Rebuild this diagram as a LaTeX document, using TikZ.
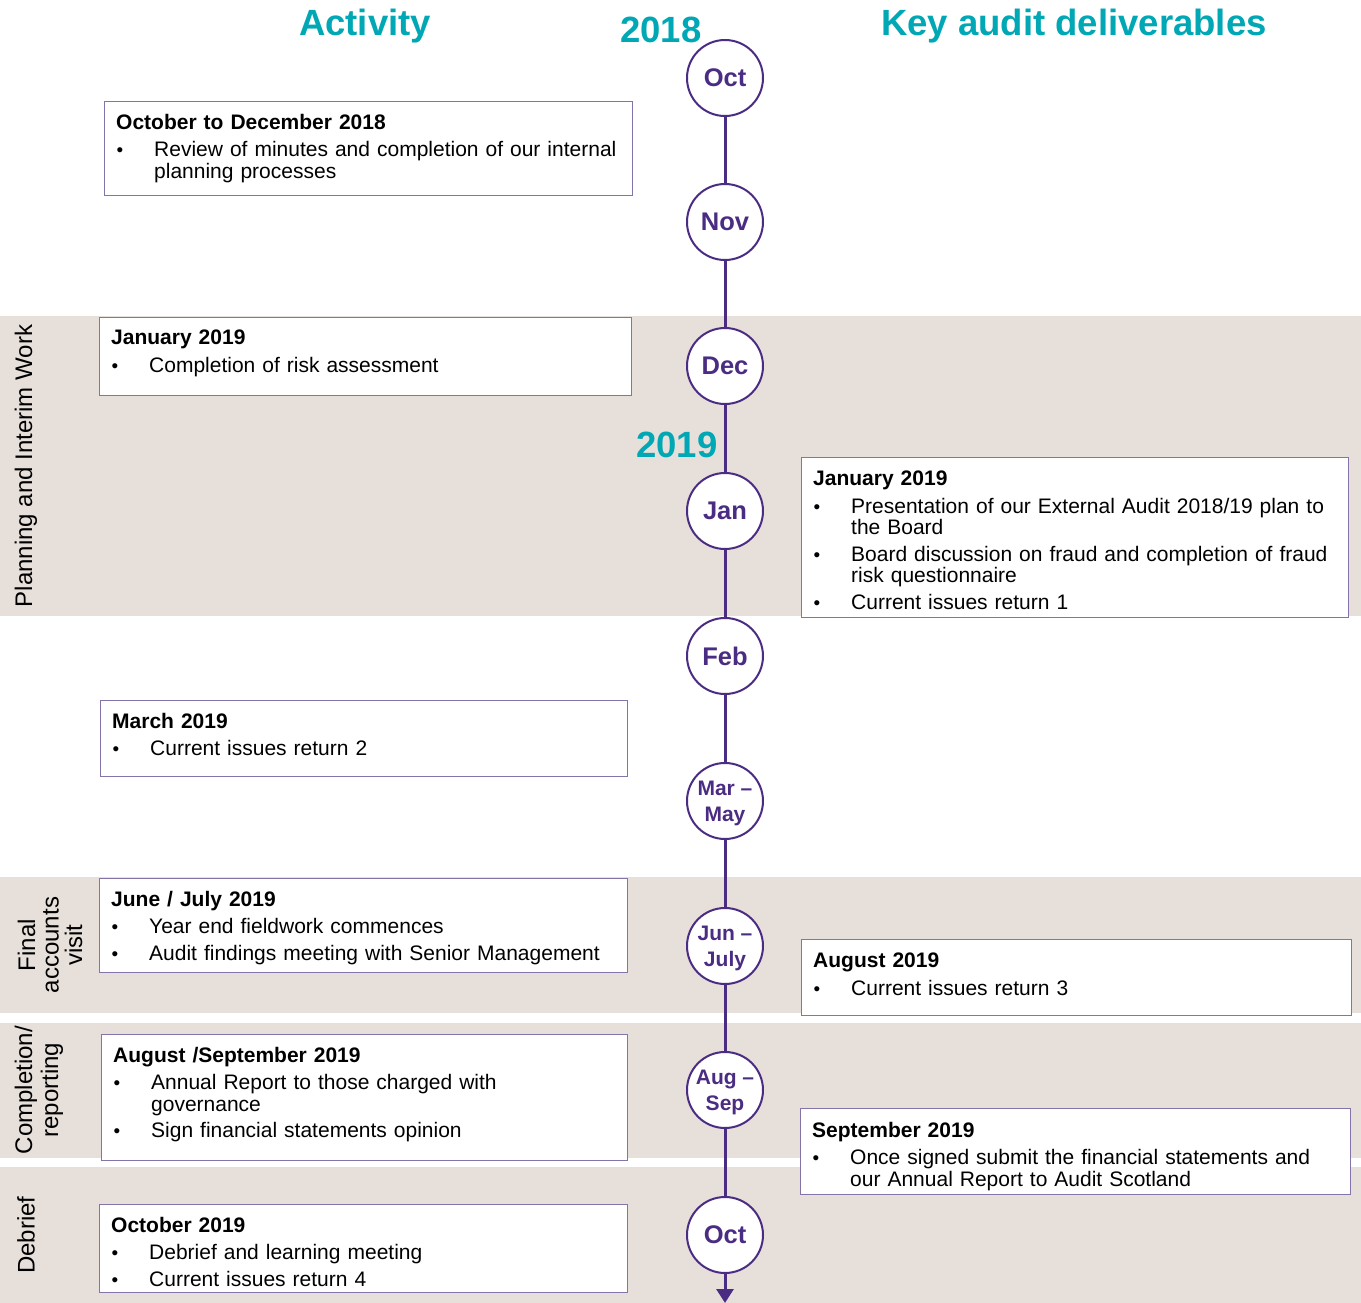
\documentclass[tikz,border=0pt]{standalone}
\usepackage{fontspec}
\setmainfont{Liberation Sans}
\usetikzlibrary{arrows.meta}
\definecolor{tlpurple}{HTML}{4B2C83}
\definecolor{boxpurple}{HTML}{8574AA}
\definecolor{teal}{HTML}{00A7B4}
\definecolor{band}{HTML}{E7E0DA}
\newcommand\bodyfont{\fontsize{21}{21.5}\selectfont}
\newcommand\btitle[1]{\textbf{#1}\par\vspace{6pt}}
\newcommand\bitem[1]{\hangindent=38pt\hangafter=1\noindent\makebox[38pt][l]{\hspace{0.5pt}\scalebox{0.9}{\textbullet}}#1\par\vspace{5pt}}
\tikzset{
  bx/.style={draw=boxpurple, line width=1pt, fill=white, anchor=north west, inner sep=0pt},
  btext/.style={anchor=north west, inner sep=0pt, text width=#1, align=left, font=\bodyfont},
  mcirc/.style={circle, draw=tlpurple, line width=2pt, fill=white, minimum size=76pt, inner sep=0pt,
    text=tlpurple, font=\fontsize{25.5}{26}\selectfont\bfseries, align=center},
  mcirc2/.style={mcirc, font=\fontsize{21}{26}\selectfont\bfseries},
  tl/.style={draw=tlpurple, line width=3pt},
  head/.style={text=teal, font=\fontsize{36.5}{40}\selectfont\bfseries, anchor=base, inner sep=0pt},
  side/.style={rotate=90, font=\fontsize{24}{24.5}\selectfont, align=center, inner sep=0pt}
}
\begin{document}
\begin{tikzpicture}[x=1pt,y=-1pt]
\useasboundingbox (0,0) rectangle (1361,1303);
% bands
\fill[band] (0,316) rectangle (1361,616);
\fill[band] (0,877) rectangle (1361,1013);
\fill[band] (0,1023) rectangle (1361,1158);
\fill[band] (0,1167) rectangle (1361,1303);
% headings
\node[head] (hact) at (365,36) {Activity};
\node[head] (hkey) at (1074,36) {Key audit deliverables};
\node[head] (y18) at (661,43) {2018};
\node[head] (y19) at (677,457) {2019};
% side labels
\node[side] (s1) at (26,466) {Planning and Interim Work};
\node[side, font=\fontsize{24}{23.5}\selectfont] (s2) at (50,945) {Final\\accounts\\visit};
\node[side, font=\fontsize{24}{26}\selectfont] (s3) at (39,1090) {Completion/\\reporting};
\node[side] (s4) at (26,1235) {Debrief};
% timeline circles
\node[mcirc] (c1) at (725,78) {Oct};
\node[mcirc] (c2) at (725,222) {Nov};
\node[mcirc] (c3) at (725,366) {Dec};
\node[mcirc] (c4) at (725,511) {Jan};
\node[mcirc] (c5) at (725,656) {Feb};
\node[mcirc2, text depth=0pt] (c6) at (725,801) {Mar --\\May};
\node[mcirc2, text depth=0pt] (c7) at (725,946) {Jun --\\July};
\node[mcirc2, text depth=0pt] (c8) at (725,1090) {Aug --\\Sep};
\node[mcirc] (c9) at (725,1235) {Oct};
\coordinate (tend) at (725,1303);
\draw[tl] (c1) -- (c2);
\draw[tl] (c2) -- (c3);
\draw[tl] (c3) -- (c4);
\draw[tl] (c4) -- (c5);
\draw[tl] (c5) -- (c6);
\draw[tl] (c6) -- (c7);
\draw[tl] (c7) -- (c8);
\draw[tl] (c8) -- (c9);
\draw[tl, -{Triangle[width=17pt,length=14pt]}] (c9) -- (tend);
% left boxes
\node[bx, minimum width=528pt, minimum height=94pt] (b1) at (104,101) {};
\node[btext=504pt] (t1) at ([shift={(12,13)}]b1.north west) {\btitle{October to December 2018}\bitem{Review of minutes and completion of our internal\newline planning processes}};
\node[bx, minimum width=532pt, minimum height=78pt] (b2) at (99,317) {};
\node[btext=508pt] (t2) at ([shift={(12,13)}]b2.north west) {\btitle{January 2019}\bitem{Completion of risk assessment}};
\node[bx, minimum width=527pt, minimum height=76pt] (b3) at (100,700) {};
\node[btext=503pt] (t3) at ([shift={(12,13)}]b3.north west) {\btitle{March 2019}\bitem{Current issues return 2}};
\node[bx, minimum width=528pt, minimum height=94pt] (b4) at (99,878) {};
\node[btext=504pt] (t4) at ([shift={(12,13)}]b4.north west) {\btitle{June / July 2019}\bitem{Year end fieldwork commences}\bitem{Audit findings meeting with Senior Management}};
\node[bx, minimum width=526pt, minimum height=126pt] (b5) at (101,1034) {};
\node[btext=502pt] (t5) at ([shift={(12,13)}]b5.north west) {\btitle{August /September 2019}\bitem{Annual Report to those charged with\newline governance}\bitem{Sign financial statements opinion}};
\node[bx, minimum width=528pt, minimum height=88pt] (b6) at (99,1204) {};
\node[btext=504pt] (t6) at ([shift={(12,13)}]b6.north west) {\btitle{October 2019}\bitem{Debrief and learning meeting}\bitem{Current issues return 4}};
% right boxes
\node[bx, minimum width=547pt, minimum height=160pt] (b7) at (801,457) {};
\node[btext=523pt] (t7) at ([shift={(12,14)}]b7.north west) {\btitle{January 2019}\bitem{Presentation of our External Audit 2018/19 plan to\newline the Board}\bitem{Board discussion on fraud and completion of fraud\newline risk questionnaire}\bitem{Current issues return 1}};
\node[bx, minimum width=550pt, minimum height=76pt] (b8) at (801,939) {};
\node[btext=526pt] (t8) at ([shift={(12,14)}]b8.north west) {\btitle{August 2019}\bitem{Current issues return 3}};
\node[bx, minimum width=550pt, minimum height=86pt] (b9) at (800,1108) {};
\node[btext=526pt] (t9) at ([shift={(12,14)}]b9.north west) {\btitle{September 2019}\bitem{Once signed submit the financial statements and\newline our Annual Report to Audit Scotland}};
\end{tikzpicture}
\end{document}
